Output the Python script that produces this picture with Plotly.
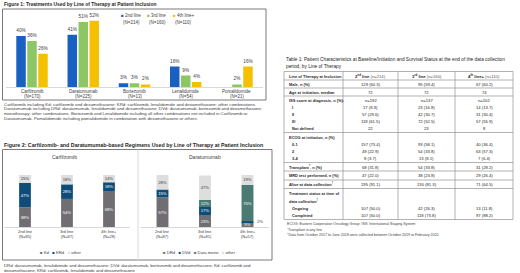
import numpy as np
import plotly.graph_objects as go

W, H = 520, 273

# ---------------- data ----------------
# Figure 1
f1_categories = ["Carfilzomib", "Daratumumab", "Bortezomib", "Lenalidomide", "Pomalidomide"]
f1_category_n = ["(N=170)", "(N=225)", "(N=13)", "(N=54)", "(N=21)"]
f1_series = ["2nd line", "3rd line", "4th line+"]
f1_series_n = ["(N=214)", "(N=160)", "(N=110)"]
f1_2nd = [40, 41, 3, 16, None]
f1_3rd = [36, 51, 3, 9, 2]
f1_4th = [26, 52, 2, 4, 16]

# Figure 2
f2_lines = ["2nd line", "3rd line", "4th line+"]
carf_n = ["(N=85)", "(N=67)", "(N=28)"]
dara_n = ["(N=87)", "(N=81)", "(N=57)"]
carf_series = ["Kd", "KRd", "other"]
carf_kd = [38, 54, 68]
carf_krd = [47, 28, 18]
carf_other = [15, 18, 14]
dara_series = ["DRd", "DVd", "Dara mono", "other"]
dara_drd = [57, 23, 9]
dara_dvd = [15, 17, 2]
dara_mono = [0, 12, 70]
dara_other = [28, 47, 19]

# Table 1
tbl_head = ["Line of Therapy at Inclusion", "2<sup>nd</sup> line", "3<sup>rd</sup> line", "4<sup>th</sup> line+"]
tbl_head_n = ["", "(n=214)", "(n=160)", "(n=110)"]
tbl_labels = ["Male, n (%)", "Age at initiation, median", "ISS score at diagnosis, n (%):",
              "I", "II", "III", "Not defined", "ECOG at initiation, n (%)", "0-1", "2", "3-4",
              "Transplant<sup>*</sup>, n (%)", "MRD test performed, n (%)", "Alive at data collection<sup>†</sup>",
              "Treatment status at time of", "data collection<sup>†</sup>", "Ongoing", "Completed"]
tbl_2nd = ["129 (60.3)", "72", "n=192", "17 (8.9)", "57 (29.6)", "118 (61.5)", "22", "",
           "157 (73.4)", "49 (22.9)", "8 (3.7)", "68 (31.8)", "47 (22.0)", "195 (91.1)", "", "", "107 (50.0)", "107 (50.0)"]
tbl_3rd = ["95 (59.4)", "72", "n=137", "23 (16.8)", "42 (30.7)", "72 (52.5)", "23", "",
           "93 (58.1)", "54 (33.8)", "13 (8.1)", "54 (33.8)", "38 (23.8)", "130 (81.3)", "", "", "42 (26.3)", "118 (73.8)"]
tbl_4th = ["67 (60.2)", "74", "n=102", "14 (13.7)", "31 (30.4)", "57 (55.9)", "8", "",
           "40 (36.4)", "63 (57.3)", "7 (6.4)", "31 (28.2)", "29 (26.4)", "71 (64.5)", "", "", "13 (11.8)", "97 (88.2)"]
tbl_footnotes = ["ECOG: Eastern Cooperative Oncology Group; ISS: International Staging System",
                 "<sup>*</sup>Transplant in any line",
                 "<sup>†</sup>Data from October 2017 to June 2018 were collected between October 2019 to February 2020"]

fig1_title = "Figure 1: Treatments Used by Line of Therapy at Patient Inclusion"
fig2_title = "Figure 2: Carfilzomib- and Daratumumab-based Regimens Used by Line of Therapy at Patient Inclusion"
tbl_title = ["Table 1: Patient Characteristics at Baseline/Initiation and Survival Status at the end of the data collection",
             "period, by Line of Therapy"]
fig1_caption = [
    "Carfilzomib including Kd: carfilzomib and dexamethasone; KRd: carfilzomib, lenalidomide and dexamethasone; other combinations.",
    "Daratumumab including DRd: daratumumab, lenalidomide and dexamethasone; DVd: daratumumab, bortezomib and dexamethasone;",
    "monotherapy; other combinations. Bortezomib and Lenalidomide including all other combinations not included in Carfilzomib or",
    "Daratumumab. Pomalidomide including pomalidomide in combination with dexamethasone or others."]
fig2_caption = [
    "DRd: daratumumab, lenalidomide and dexamethasone; DVd: daratumumab, bortezomib and dexamethasone; Kd: carfilzomib and",
    "dexamethasone; KRd: carfilzomib, lenalidomide and dexamethasone"]

# ---------------- style ----------------
SANS = "Liberation Sans, Arial, sans-serif"
TXT = "#404040"
DARK = "#262626"
f1_colors = ["#1a5fc2", "#8cc665", "#f5c000"]
carf_colors = ["#706e72", "#0e4d7a", "#dedede"]
dara_colors = ["#706e72", "#0e4d7a", "#4b7a72", "#dedede"]


def px(x):
    return x / W


def py(y):
    return 1 - y / H


fig = go.Figure()
annotations = []

# ---- Figure 1 grouped bars ----
bar_w = 0.185
offsets = [-0.307, -0.0927, 0.122]
for name, vals, col, off in zip(f1_series, [f1_2nd, f1_3rd, f1_4th], f1_colors, offsets):
    fig.add_trace(go.Bar(
        x=f1_categories, y=vals, name=name, marker_color=col, marker_line_width=0,
        width=bar_w, offset=off,
        text=[f"{v}%" if v is not None else None for v in vals],
        textposition="outside", constraintext="none", cliponaxis=False,
        textfont=dict(family=SANS, size=4.7, color=TXT),
        xaxis="x", yaxis="y", hoverinfo="skip"))


# ---- Figure 2 stacked bars ----
def add_stack(series_names, series_vals, colors, xa, ya, text_colors):
    arr = np.array(series_vals, dtype=float)
    bases = np.vstack([np.zeros(arr.shape[1]), np.cumsum(arr, axis=0)[:-1]])
    for name, vals, base, col, tcol in zip(series_names, arr, bases, colors, text_colors):
        fig.add_trace(go.Bar(
            x=f2_lines, y=vals, base=base, name=name, marker_color=col, marker_line_width=0,
            width=0.28, offset=-0.14,
            text=[f"{int(v)}%" if v >= 5 else None for v in vals],
            textposition="inside", insidetextanchor="middle", textangle=0, constraintext="none",
            textfont=dict(family=SANS, size=4.2, color=tcol),
            xaxis=xa, yaxis=ya, hoverinfo="skip"))
        for cat, v, b in zip(f2_lines, vals, base):
            if 0 < v < 5:
                annotations.append(dict(x=cat, y=b + v / 2, xref=xa, yref=ya, text=f"{int(v)}%",
                                        showarrow=False, xanchor="left", xshift=7,
                                        font=dict(family=SANS, size=4.2, color=TXT)))


add_stack(carf_series, [carf_kd, carf_krd, carf_other], carf_colors, "x2", "y2",
          ["white", "white", TXT])
add_stack(dara_series, [dara_drd, dara_dvd, dara_mono, dara_other], dara_colors, "x3", "y3",
          ["white", "white", "white", TXT])


def ann(x, y, text, size, color=TXT, xanchor="left", xref="paper"):
    annotations.append(dict(x=px(x) if xref == "paper" else x, y=py(y), xref=xref, yref="paper", text=text,
                            showarrow=False, xanchor=xanchor, yanchor="middle",
                            font=dict(family=SANS, size=size, color=color)))


# category labels (placed with the axes' own category scale)
for c, n in zip(f1_categories, f1_category_n):
    ann(c, 91.5, c, 4.5, TXT, "center", "x")
    ann(c, 96.3, n, 4.5, TXT, "center", "x")
for xa, ns in (("x2", carf_n), ("x3", dara_n)):
    for c, n in zip(f2_lines, ns):
        ann(c, 231.5, c, 4.0, TXT, "center", xa)
        ann(c, 236, n, 4.0, TXT, "center", xa)

# titles
ann(2, 4.5, f"<b>{fig1_title}</b>", 4.9, DARK)
ann(2, 144.5, f"<b>{fig2_title}</b>", 5.3, DARK)
for i, t in enumerate(tbl_title):
    ann(284, 59 + 7.5 * i, t, 4.75, DARK)

# captions
for i, t in enumerate(fig1_caption):
    ann(2, 104 + 4.7 * i, t, 4.35, TXT)
for i, t in enumerate(fig2_caption):
    ann(2, 265.5 + 4.9 * i, t, 4.3, TXT)

# Figure 1 legend
leg_x = [119, 145, 171]
for x0, name, n, col in zip(leg_x, f1_series, f1_series_n, f1_colors):
    ann(x0, 15.5, f'<span style="color:{col}">■</span> {name}', 4.5, TXT)
    ann(x0 + 12, 22, n, 4.5, TXT, "center")

# Figure 2 panel titles and legends
ann(64, 157, "Carfilzomib", 5, TXT, "center")
ann(205, 157, "Daratumumab", 5, TXT, "center")
sp = "\u00a0"
carf_leg = (sp * 3).join(f'<span style="color:{c}">■</span>{sp}{n}' for n, c in zip(carf_series, carf_colors))
dara_leg = (sp * 3).join(f'<span style="color:{c}">■</span>{sp}{n}' for n, c in zip(dara_series, dara_colors))
ann(61, 252.5, carf_leg, 4.2, TXT, "center")
ann(199, 252.5, dara_leg, 4.2, TXT, "center")

# ---- Table ----
col_x = [284, 343, 398, 455, 513]
col_c = [(col_x[i] + col_x[i + 1]) / 2 for i in range(1, 4)]
head_y = 76
row_y = [84, 92, 100, 107.5, 114.5, 121.5, 128.5, 137, 144.5, 151.5, 158.5, 167, 175.5, 184,
         193.5, 200.5, 208, 215.5]
sub_rows = {3, 4, 5, 6, 8, 9, 10, 16, 17}
LFS, VFS = 3.95, 4.2
ann(287, head_y, f"<b>{tbl_head[0]}</b>", LFS, DARK)
for c, h, n in zip(col_c, tbl_head[1:], tbl_head_n[1:]):
    ann(c, head_y, f"<b>{h}</b> <span style='color:#595959'>{n}</span>", VFS, DARK, "center")
for i, (lab, a, b, c3) in enumerate(zip(tbl_labels, tbl_2nd, tbl_3rd, tbl_4th)):
    y = row_y[i]
    ann(290 if i in sub_rows else 287, y, f"<b>{lab}</b>", LFS, DARK)
    for cx, v in zip(col_c, [a, b, c3]):
        if v:
            ann(cx, y, v, VFS, DARK, "center")
for i, t in enumerate(tbl_footnotes):
    ann(285, 224 + 5 * i, t, 3.6, TXT)

shapes = []
# boxes
shapes.append(dict(type="rect", xref="paper", yref="paper", x0=px(2.5), x1=px(266), y0=py(100), y1=py(9),
                   line=dict(color="#595959", width=0.8)))
shapes.append(dict(type="rect", xref="paper", yref="paper", x0=px(2.5), x1=px(272), y0=py(260), y1=py(149.5),
                   line=dict(color="#595959", width=0.8)))
shapes.append(dict(type="line", xref="paper", yref="paper", x0=px(138), x1=px(138), y0=py(260), y1=py(149.5),
                   line=dict(color="#d9d9d9", width=1)))
# table grid
h_lines = [71.5, 80, 88, 96, 132.5, 162.5, 171, 180, 188.5, 219.5]
for yy in h_lines:
    shapes.append(dict(type="line", xref="paper", yref="paper", x0=px(col_x[0]), x1=px(col_x[-1]),
                       y0=py(yy), y1=py(yy), line=dict(color="#7f7f7f", width=0.6)))
for xx in col_x:
    shapes.append(dict(type="line", xref="paper", yref="paper", x0=px(xx), x1=px(xx),
                       y0=py(h_lines[0]), y1=py(h_lines[-1]), line=dict(color="#7f7f7f", width=0.6)))

axis_common = dict(type="category", showgrid=False, zeroline=False, ticks="", showline=True,
                   showticklabels=False, linecolor="#d9d9d9", linewidth=0.8, fixedrange=True)
fig.update_layout(
    width=W, height=H, margin=dict(l=0, r=0, t=0, b=0),
    paper_bgcolor="white", plot_bgcolor="white", showlegend=False, barmode="overlay",
    xaxis=dict(domain=[px(6.4), px(262.6)], anchor="y", range=[-0.5, 4.5],
               categoryorder="array", categoryarray=f1_categories, **axis_common),
    yaxis=dict(domain=[py(87), py(15.6)], range=[0, 56], visible=False, anchor="x", fixedrange=True),
    xaxis2=dict(domain=[px(4), px(130)], anchor="y2", range=[-0.5, 2.5],
                categoryorder="array", categoryarray=f2_lines, **axis_common),
    yaxis2=dict(domain=[py(227), py(175)], range=[0, 100], visible=False, anchor="x2", fixedrange=True),
    xaxis3=dict(domain=[px(141.25), px(268.75)], anchor="y3", range=[-0.5, 2.5],
                categoryorder="array", categoryarray=f2_lines, **axis_common),
    yaxis3=dict(domain=[py(227), py(175)], range=[0, 100], visible=False, anchor="x3", fixedrange=True),
    annotations=annotations, shapes=shapes,
)

fig.write_html("out.html", config={"displayModeBar": False},
               post_script="document.body.style.margin='0';document.body.style.overflow='hidden';")
